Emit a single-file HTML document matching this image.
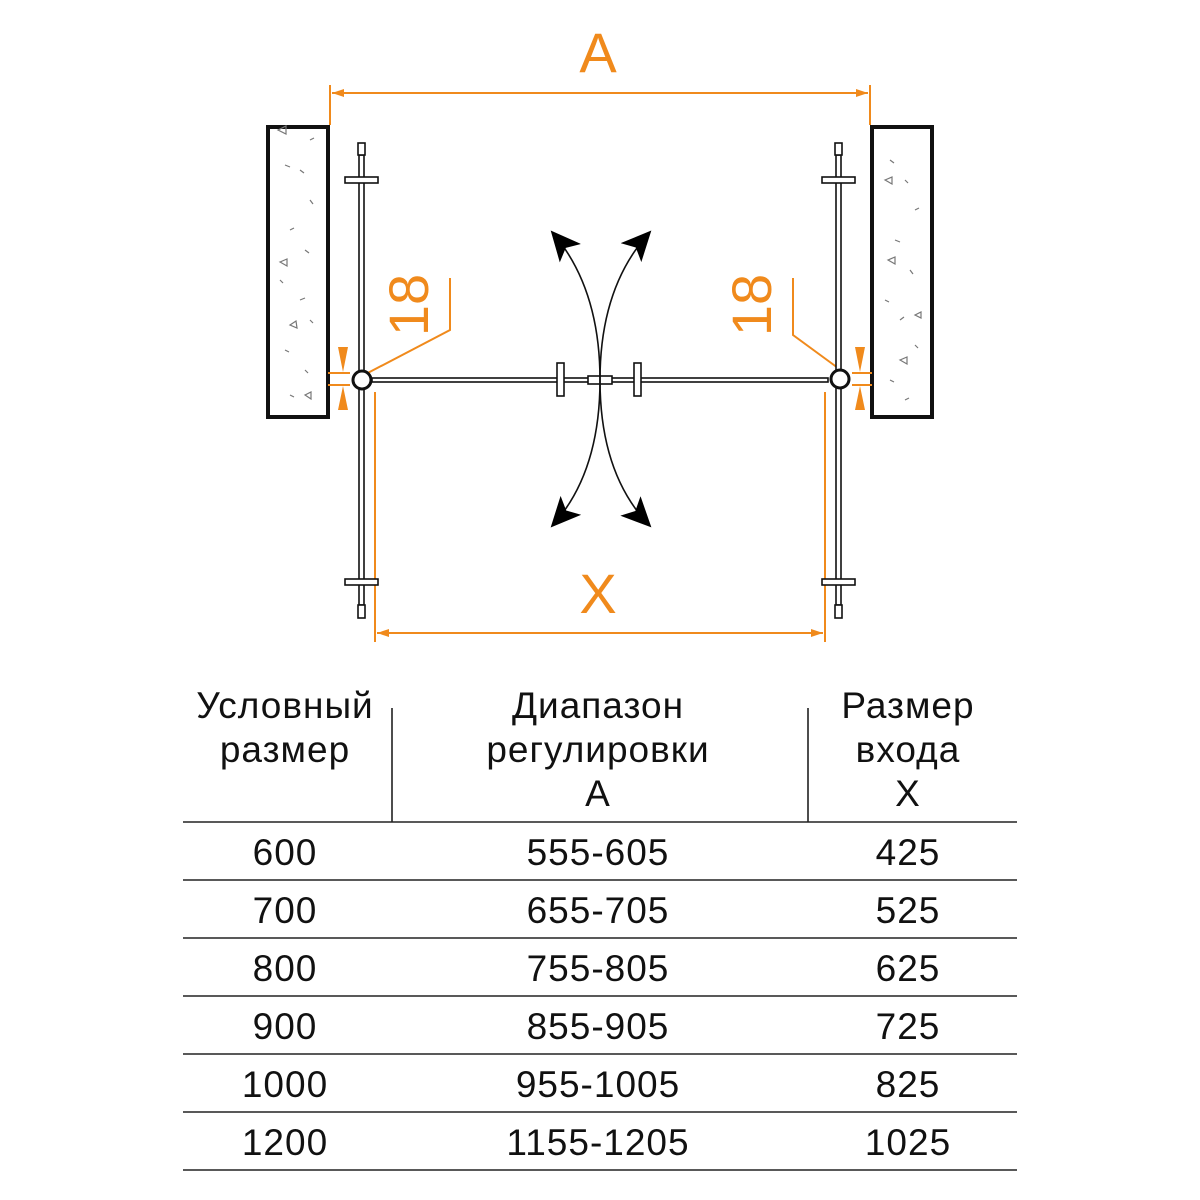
<!DOCTYPE html>
<html><head><meta charset="utf-8"><style>
html,body{margin:0;padding:0;background:#fff;}
svg{display:block;}
text{font-family:"Liberation Sans","DejaVu Sans",sans-serif;}
</style></head><body>
<svg width="1200" height="1200" viewBox="0 0 1200 1200" xmlns="http://www.w3.org/2000/svg">
<defs>
<marker id="oa" markerWidth="12" markerHeight="8" refX="12" refY="4" orient="auto-start-reverse" markerUnits="userSpaceOnUse"><path d="M0,0 L12,4 L0,8 Z" fill="#f08a1c"/></marker>
<marker id="ba" markerWidth="32" markerHeight="28" refX="28" refY="14" orient="auto" markerUnits="userSpaceOnUse"><path d="M0,0 L30,14 L0,28 L7,14 Z" fill="#000"/></marker>
</defs>
<!-- walls -->
<rect x="268" y="127" width="60" height="290" fill="#fff" stroke="#111" stroke-width="4"/>
<rect x="872" y="127" width="60" height="290" fill="#fff" stroke="#111" stroke-width="4"/>
<g stroke="#777" stroke-width="1.2" fill="none">
<path d="M285,165 l5,2 M300,170 l4,3 M310,200 l3,4 M290,230 l4,-2 M305,250 l4,3 M280,280 l3,3 M300,300 l5,-2 M310,320 l3,3 M285,350 l4,2 M305,370 l3,3 M290,395 l4,2 M310,140 l4,-2"/>
<path d="M890,160 l4,3 M905,180 l3,3 M915,210 l4,-2 M895,240 l5,2 M910,270 l3,4 M885,300 l4,2 M900,320 l4,-3 M915,345 l3,3 M890,380 l4,2 M905,400 l4,-2"/>
<path d="M278,130 l8,-4 l0,8 Z M280,262 l7,-3 l0,7 Z M290,325 l6,-4 l1,7 Z M305,395 l6,-3 l0,7 Z"/>
<path d="M885,180 l7,-3 l0,7 Z M888,260 l7,-3 l0,7 Z M900,360 l7,-3 l0,7 Z M915,315 l6,-3 l0,6 Z"/>
</g>
<!-- dimensions -->
<g stroke="#f08a1c" stroke-width="2" fill="none">
<line x1="330" y1="85" x2="330" y2="125"/>
<line x1="870" y1="85" x2="870" y2="125"/>
<line x1="332" y1="93" x2="868" y2="93" marker-start="url(#oa)" marker-end="url(#oa)"/>
<line x1="375" y1="392" x2="375" y2="642"/>
<line x1="825" y1="392" x2="825" y2="642"/>
<line x1="377" y1="633" x2="823" y2="633" marker-start="url(#oa)" marker-end="url(#oa)"/>
<polyline points="362,376 450,330 450,278"/>
<polyline points="838,368 793,335 793,278"/>
<line x1="328" y1="373" x2="350" y2="373"/><line x1="328" y1="385" x2="350" y2="385"/>
<line x1="852" y1="373" x2="872" y2="373"/><line x1="852" y1="385" x2="872" y2="385"/>
</g>
<g fill="#f08a1c">
<path d="M338,347 L348,347 L343,372 Z M338,410 L348,410 L343,386 Z"/>
<path d="M855,347 L865,347 L860,372 Z M855,410 L865,410 L860,386 Z"/>
</g>
<text x="598" y="72" font-size="56" fill="#f08a1c" text-anchor="middle">A</text>
<text x="598" y="613" font-size="56" fill="#f08a1c" text-anchor="middle">X</text>
<text transform="translate(428,305) rotate(-90)" font-size="56" fill="#f08a1c" text-anchor="middle">18</text>
<text transform="translate(771,305) rotate(-90)" font-size="56" fill="#f08a1c" text-anchor="middle">18</text>
<!-- bars -->
<g stroke="#111" stroke-width="1.6" fill="#fff">
<rect x="359" y="155" width="5" height="450"/>
<rect x="358" y="143" width="7" height="12"/>
<rect x="358" y="605" width="7" height="13"/>
<rect x="345" y="177" width="33" height="6"/>
<rect x="345" y="579" width="33" height="6"/>
<rect x="836" y="155" width="5" height="450"/>
<rect x="835" y="143" width="7" height="12"/>
<rect x="835" y="605" width="7" height="13"/>
<rect x="822" y="177" width="33" height="6"/>
<rect x="822" y="579" width="33" height="6"/>
<rect x="372" y="378" width="456" height="4"/>
<rect x="588" y="376" width="24" height="8"/>
<rect x="557" y="363" width="7" height="33"/>
<rect x="634" y="363" width="7" height="33"/>
<circle cx="362" cy="380" r="9" stroke-width="3"/>
<circle cx="840" cy="379" r="9" stroke-width="3"/>
</g>
<!-- swing arrows -->
<g stroke="#111" stroke-width="1.6" fill="none">
<path d="M600,380 C600,320 585,270 552,232" marker-end="url(#ba)"/>
<path d="M600,380 C600,320 615,270 650,232" marker-end="url(#ba)"/>
<path d="M600,380 C600,440 585,490 552,526" marker-end="url(#ba)"/>
<path d="M600,380 C600,440 615,490 650,526" marker-end="url(#ba)"/>
</g>
<!-- table -->
<g stroke="#222" stroke-width="1.6">
<line x1="392" y1="708" x2="392" y2="822"/>
<line x1="808" y1="708" x2="808" y2="822"/>
<line x1="183" y1="822" x2="1017" y2="822"/>
<line x1="183" y1="880" x2="1017" y2="880"/>
<line x1="183" y1="938" x2="1017" y2="938"/>
<line x1="183" y1="996" x2="1017" y2="996"/>
<line x1="183" y1="1054" x2="1017" y2="1054"/>
<line x1="183" y1="1112" x2="1017" y2="1112"/>
<line x1="183" y1="1170" x2="1017" y2="1170"/>
</g>
<g font-size="37" fill="#111" text-anchor="middle" letter-spacing="1">
<text x="285" y="718">Условный</text>
<text x="285" y="762">размер</text>
<text x="598" y="718">Диапазон</text>
<text x="598" y="762">регулировки</text>
<text x="598" y="806">А</text>
<text x="908" y="718">Размер</text>
<text x="908" y="762">входа</text>
<text x="908" y="806">Х</text>
<text x="285" y="865">600</text><text x="598" y="865">555-605</text><text x="908" y="865">425</text>
<text x="285" y="923">700</text><text x="598" y="923">655-705</text><text x="908" y="923">525</text>
<text x="285" y="981">800</text><text x="598" y="981">755-805</text><text x="908" y="981">625</text>
<text x="285" y="1039">900</text><text x="598" y="1039">855-905</text><text x="908" y="1039">725</text>
<text x="285" y="1097">1000</text><text x="598" y="1097">955-1005</text><text x="908" y="1097">825</text>
<text x="285" y="1155">1200</text><text x="598" y="1155">1155-1205</text><text x="908" y="1155">1025</text>
</g>
</svg>
</body></html>
